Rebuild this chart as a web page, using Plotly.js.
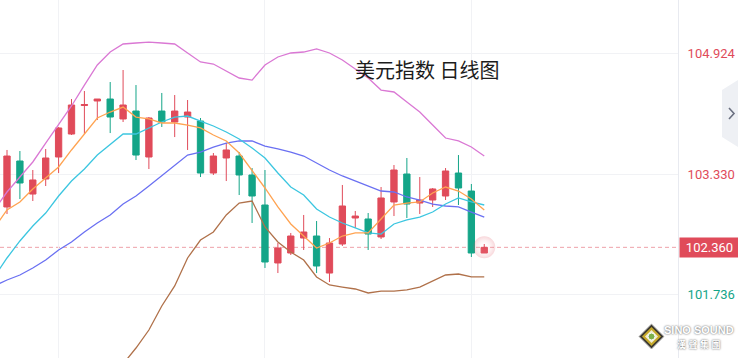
<!DOCTYPE html>
<html><head><meta charset="utf-8">
<script src="https://cdn.plot.ly/plotly-3.0.1.min.js"></script>
<style>html,body{margin:0;padding:0;background:#fff;overflow:hidden}#chart{width:738px;height:358px}</style>
</head><body><div id="chart"></div>
<script>
// ---- data (day index 0 = the day before the first visible candle) ----
const day = [0,1,2,3,4,5,6,7,8,9,10,11,12,13,14,15,16,17,18,19,20,21,22,23,24,25,26,27,28,29,30,31,32,33,34,35,36,37,38];
const open  = [102.894,103.502,103.065,103.264,103.555,103.859,104.236,104.296,104.322,104.058,104.163,103.555,104.163,104.018,104.084,104.031,103.343,103.542,103.568,103.317,102.920,102.153,102.285,102.483,102.510,102.020,102.404,102.748,102.735,102.497,102.960,103.330,102.946,102.986,103.039,103.343,103.105,102.285];
const high  = [103.648,103.634,103.383,103.661,103.952,104.322,104.428,104.322,104.547,104.706,104.507,104.084,104.402,104.375,104.309,104.071,103.608,103.740,103.621,103.409,103.383,102.417,102.550,102.788,102.708,102.483,103.185,102.841,102.814,103.158,103.449,103.542,103.290,103.145,103.409,103.581,103.198,102.404];
const low   = [102.801,102.999,102.973,103.171,103.343,103.846,103.859,104.044,103.872,104.018,103.515,103.396,103.952,103.819,103.648,103.290,103.317,103.237,103.052,102.682,102.087,102.020,102.259,102.325,102.020,101.901,102.378,102.616,102.325,102.470,102.774,102.748,102.801,102.894,102.986,102.920,102.232,102.285];
const close = [103.568,103.211,103.251,103.542,103.939,104.243,104.249,104.322,104.084,104.243,103.581,104.071,104.018,104.163,104.150,103.343,103.568,103.648,103.317,103.039,102.166,102.351,102.510,102.563,102.113,102.417,102.907,102.774,102.536,103.013,103.383,102.933,102.986,103.132,103.370,103.145,102.285,102.360];
const ma5   = [102.616,102.854,102.960,103.132,103.277,103.423,103.648,103.859,104.071,104.150,104.216,104.084,104.058,104.005,104.005,103.978,103.939,103.846,103.767,103.608,103.383,103.145,102.894,102.669,102.510,102.351,102.417,102.510,102.550,102.550,102.735,102.920,102.946,102.960,103.079,103.158,103.105,103.000,102.854];
const ma10  = [101.968,102.219,102.444,102.642,102.814,103.039,103.237,103.396,103.581,103.714,103.859,103.859,103.939,104.018,104.084,104.097,104.031,103.965,103.886,103.793,103.674,103.542,103.343,103.158,103.052,102.867,102.761,102.682,102.616,102.550,102.536,102.669,102.722,102.761,102.827,102.933,103.013,102.960,102.920];
const bollMid   = [101.849,101.928,101.994,102.087,102.192,102.325,102.431,102.563,102.682,102.788,102.933,103.039,103.171,103.304,103.449,103.581,103.621,103.687,103.740,103.767,103.767,103.700,103.661,103.621,103.568,103.476,103.383,103.304,103.237,103.171,103.105,103.092,103.026,102.986,102.933,102.907,102.894,102.827,102.761];
const bollUpper = [102.854,103.092,103.290,103.489,103.740,103.978,104.230,104.507,104.772,104.944,105.050,105.063,105.076,105.063,105.050,104.931,104.812,104.785,104.693,104.600,104.573,104.772,104.878,104.931,104.944,104.984,104.931,104.838,104.719,104.600,104.441,104.415,104.282,104.150,103.978,103.806,103.767,103.687,103.568];
const bollLower = [100.843,100.764,100.698,100.684,100.645,100.671,100.632,100.618,100.592,100.632,100.817,101.028,101.266,101.584,101.849,102.219,102.457,102.563,102.788,102.946,102.973,102.629,102.431,102.298,102.192,101.968,101.862,101.835,101.809,101.756,101.782,101.782,101.796,101.835,101.915,101.994,102.007,101.968,101.968];
const tickValues = [104.924, 103.330, 101.736];
const tickLabels = ['104.924', '103.330', '101.736'];
const titleText = '美元指数 日线图';
const logoText = 'SINO SOUND';
const logoSub = '漢 聲 集 團';

// ---- styling ----
const RED = '#e04b5a', GREEN = '#14a588';
const tickColors = [RED, RED, GREEN];
const candleDays = day.slice(1);
const lastDay = candleDays[candleDays.length - 1];
const lastPrice = close[close.length - 1];

const W = 678, H = 358;
const PX = x => x / W, PY = y => 1 - y / H;
function poly(pts){ return 'M' + pts.map(p => PX(p[0]).toFixed(5) + ',' + PY(p[1]).toFixed(5)).join(' L') + ' Z'; }
function diamond(cx, cy, r){ return poly([[cx, cy - r],[cx + r, cy],[cx, cy + r],[cx - r, cy]]); }

const lineStyle = (c) => ({color: c, width: 1.3});
const traces = [
  {type:'candlestick', x: candleDays, open, high, low, close, whiskerwidth: 0,
   increasing:{line:{color:RED, width:1}, fillcolor:RED},
   decreasing:{line:{color:GREEN, width:1}, fillcolor:GREEN},
   hoverinfo:'skip'},
  {type:'scatter', mode:'lines', x: day, y: bollUpper, line: lineStyle('#da78d4'), hoverinfo:'skip'},
  {type:'scatter', mode:'lines', x: day, y: bollLower, line: lineStyle('#b0714a'), hoverinfo:'skip'},
  {type:'scatter', mode:'lines', x: day, y: bollMid, line: lineStyle('#6a70f2'), hoverinfo:'skip'},
  {type:'scatter', mode:'lines', x: day, y: ma10, line: lineStyle('#3cc6e0'), hoverinfo:'skip'},
  {type:'scatter', mode:'lines', x: day, y: ma5, line: lineStyle('#ffa351'), hoverinfo:'skip'},
  {type:'scatter', mode:'markers', x:[lastDay], y:[lastPrice],
   marker:{size:22, color:'rgba(224,75,90,0.22)', gradient:{type:'radial', color:'rgba(255,255,255,0)'}, line:{width:0}},
   hoverinfo:'skip'}
];

const shapes = [
  {type:'line', xref:'paper', yref:'y', x0:0, x1:1, y0:lastPrice, y1:lastPrice,
   line:{color:'#eea2a9', width:1, dash:'4px,3px'}, layer:'below'},
  // side tab
  {type:'path', xref:'paper', yref:'paper', path: poly([[722,90],[738,80],[738,147],[722,137]]),
   fillcolor:'#eef0f4', line:{width:0}},
  {type:'path', xref:'paper', yref:'paper',
   path: 'M' + PX(729) + ',' + PY(108) + ' L' + PX(734) + ',' + PY(113.5) + ' L' + PX(729) + ',' + PY(119),
   line:{color:'#6b7080', width:1.6}},
  // logo diamond
  {type:'path', xref:'paper', yref:'paper', path: diamond(651.5, 336.5, 12.5), fillcolor:'#3b3830', line:{color:'#bdbdbd', width:1}},
  {type:'path', xref:'paper', yref:'paper', path: diamond(651.5, 336.5, 9.5), fillcolor:'#c6a92a', line:{width:0}},
  {type:'path', xref:'paper', yref:'paper', path: diamond(651.5, 336.5, 6.5), fillcolor:'#f1ecd2', line:{width:0}},
  {type:'circle', xref:'paper', yref:'paper', x0:PX(648), x1:PX(655), y0:PY(340), y1:PY(333), fillcolor:'#7bb04a', line:{color:'#ffffff', width:1}}
];

const annotations = [
  {xref:'paper', yref:'paper', x:PX(353), y:PY(70), xanchor:'left', yanchor:'middle', showarrow:false,
   text:titleText, font:{family:'Noto Sans CJK SC', size:20, color:'#1c1c1c'}},
  {xref:'paper', yref:'y', x:1, xshift:1, y:lastPrice, xanchor:'left', yanchor:'middle', showarrow:false,
   text: lastPrice.toFixed(3), bgcolor:RED, width:55, height:15, borderpad:2,
   font:{family:'Roboto, Noto Sans', size:13, color:'#ffffff'}},
  {xref:'paper', yref:'paper', x:PX(699), y:PY(336.5), xanchor:'center', yanchor:'middle', showarrow:false,
   text:'<b>' + logoText + '</b><br><b><span style="font-size:9px">' + logoSub + '</span></b>',
   font:{family:'Liberation Sans, Noto Sans CJK TC', size:11, color:'#ffffff', shadow:'0px 0px 2px #444'}}
];

const layout = {
  width:738, height:358, margin:{l:0, r:60, t:0, b:0, pad:0},
  paper_bgcolor:'#ffffff', plot_bgcolor:'#ffffff', showlegend:false,
  xaxis:{range:[0.457, 53.02], tickmode:'array', tickvals:[5, 21, 37], showticklabels:false, ticks:'',
         showgrid:true, gridcolor:'#f1f2f5', gridwidth:1, zeroline:false, showline:false,
         rangeslider:{visible:false}, fixedrange:true},
  yaxis:{side:'right', range:[100.896, 105.632], tickmode:'array', tickvals: tickValues,
         ticktext: tickLabels.map((t, i) => '<span style="color:' + tickColors[i] + '">' + t + '</span>'),
         ticks:'', ticklabelstandoff:6, tickfont:{family:'Roboto, Noto Sans', size:13},
         showgrid:true, gridcolor:'#f1f2f5', gridwidth:1, zeroline:false,
         showline:true, linecolor:'#e8eaf0', linewidth:1, fixedrange:true},
  shapes, annotations, hovermode:false
};

Plotly.newPlot('chart', traces, layout, {staticPlot:true, displayModeBar:false});
</script>
</body></html>
